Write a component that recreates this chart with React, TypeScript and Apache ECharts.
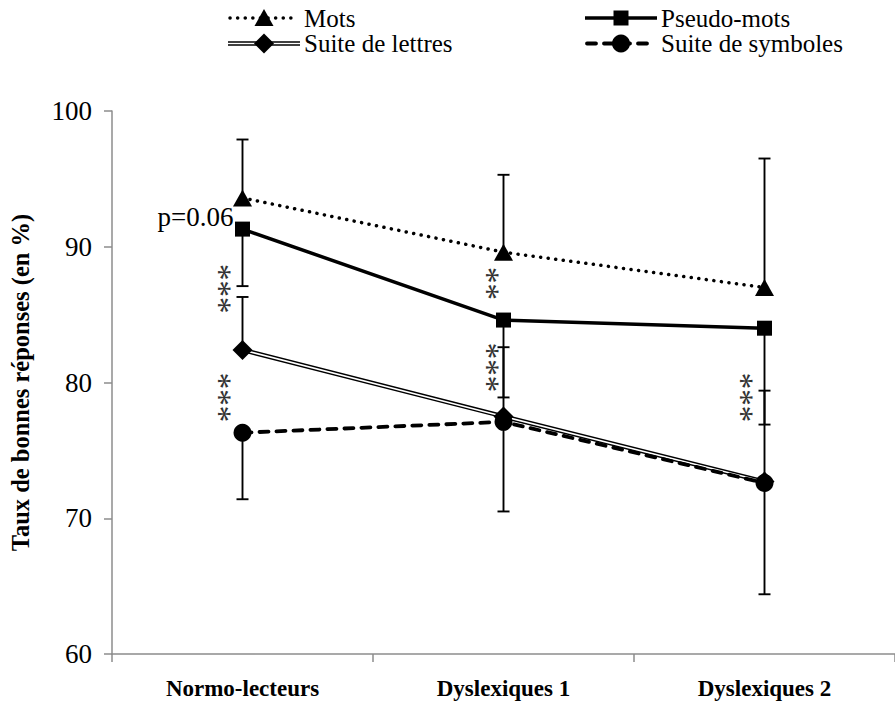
import React, { useEffect, useRef } from "react";
import * as echarts from "echarts";

const categories = ["Normo-lecteurs", "Dyslexiques 1", "Dyslexiques 2"];
const yMin = 60;
const yMax = 100;
const yStep = 10;

const seriesNames = ["Mots", "Pseudo-mots", "Suite de lettres", "Suite de symboles"];
const mots = [93.6, 89.6, 87.0];
const pseudoMots = [91.3, 84.6, 84.0];
const suiteLettres = [82.4, 77.5, 72.7];
const suiteSymboles = [76.3, 77.1, 72.6];

// error bar ends (Excel one-sided bars)
const motsPlus = [97.9, 95.3, 96.5];
const pseudoMotsMinus = [87.1, 78.9, 76.9];
const suiteLettresPlus = [86.3, 82.6, 79.4];
const suiteSymbolesMinus = [71.4, 70.5, 64.4];

// significance annotations: category index, centre value, number of stars
const starCats = [0, 0, 1, 1, 2];
const starValues = [86.9, 78.9, 87.3, 81.1, 78.9];
const starCounts = [3, 3, 2, 3, 3];
const pLabel = "p=0.06";
const pCat = 0;
const pValue = 92.2;

const FONT = "Liberation Serif";

export default function App() {
  const ref = useRef<HTMLDivElement>(null);

  useEffect(() => {
    if (!ref.current) return;
    const chart = echarts.init(ref.current, undefined, { renderer: "svg" });

    const errData = (from: number[], to: number[]) =>
      from.map((v, i) => [i, v, to[i]]);

    const errSeries = (name: string, from: number[], to: number[]) => ({
      type: "custom",
      name,
      z: 1,
      silent: true,
      data: errData(from, to),
      encode: { x: 0, y: [1, 2] },
      renderItem: (params: any, api: any) => {
        const c = api.value(0);
        const p0 = api.coord([c, api.value(1)]);
        const p1 = api.coord([c, api.value(2)]);
        return {
          type: "group",
          children: [
            {
              type: "line",
              shape: { x1: p0[0], y1: p0[1], x2: p1[0], y2: p1[1] },
              style: { stroke: "#000", lineWidth: 1.9 },
            },
            {
              type: "line",
              shape: { x1: p1[0] - 6, y1: p1[1], x2: p1[0] + 6, y2: p1[1] },
              style: { stroke: "#000", lineWidth: 1.9 },
            },
          ],
        };
      },
    });

    const option: any = {
      animation: false,
      textStyle: { fontFamily: FONT },
      grid: { left: 108, right: -11, top: 111, bottom: 50, containLabel: false },
      xAxis: {
        type: "category",
        data: categories,
        boundaryGap: true,
        axisLine: { lineStyle: { color: "#8c8c8c", width: 1.5 } },
        axisTick: { show: true, length: 8, lineStyle: { color: "#8c8c8c", width: 1.5 } },
        axisLabel: {
          color: "#000",
          fontFamily: FONT,
          fontWeight: "bold",
          fontSize: 23,
          margin: 23,
        },
        splitLine: { show: false },
      },
      yAxis: {
        type: "value",
        min: yMin,
        max: yMax,
        interval: yStep,
        name: "Taux de bonnes réponses (en %)",
        nameLocation: "middle",
        nameGap: 79,
        nameTextStyle: {
          color: "#000",
          fontFamily: FONT,
          fontWeight: "bold",
          fontSize: 24.5,
        },
        axisLine: { show: true, lineStyle: { color: "#8c8c8c", width: 1.5 } },
        axisTick: { show: true, length: 8, lineStyle: { color: "#8c8c8c", width: 1.5 } },
        axisLabel: { color: "#000", fontFamily: FONT, fontSize: 27, margin: 20 },
        splitLine: { show: false },
      },
      series: [
        errSeries("err-mots", mots, motsPlus),
        errSeries("err-pseudo", pseudoMots, pseudoMotsMinus),
        errSeries("err-lettres", suiteLettres, suiteLettresPlus),
        errSeries("err-symboles", suiteSymboles, suiteSymbolesMinus),
        {
          type: "line",
          name: seriesNames[0],
          data: mots,
          z: 3,
          symbol: "triangle",
          symbolSize: [19, 17],
          itemStyle: { color: "#000" },
          lineStyle: { color: "#000", width: 3.5, type: [0.1, 7.5], cap: "round" },
        },
        {
          type: "line",
          name: seriesNames[1],
          data: pseudoMots,
          z: 3,
          symbol: "rect",
          symbolSize: 15,
          itemStyle: { color: "#000" },
          lineStyle: { color: "#000", width: 3.5 },
        },
        {
          type: "line",
          name: seriesNames[2] + "-outer",
          data: suiteLettres,
          z: 2,
          symbol: "none",
          lineStyle: { color: "#000", width: 4.5 },
        },
        {
          type: "line",
          name: seriesNames[2] + "-inner",
          data: suiteLettres,
          z: 2,
          symbol: "none",
          silent: true,
          lineStyle: { color: "#fff", width: 1.6 },
        },
        {
          type: "line",
          name: seriesNames[3],
          data: suiteSymboles,
          z: 3,
          symbol: "circle",
          symbolSize: 18,
          itemStyle: { color: "#000" },
          lineStyle: { color: "#000", width: 3.8, type: [9, 8], cap: "round" },
        },
        {
          type: "line",
          name: seriesNames[2],
          data: suiteLettres,
          z: 4,
          symbol: "diamond",
          symbolSize: [20, 20],
          itemStyle: { color: "#000" },
          lineStyle: { opacity: 0 },
        },
      ],
    };

    chart.setOption(option);

    // annotations positioned through the axes
    const graphics: any[] = [];
    starCats.forEach((c, i) => {
      const p = chart.convertToPixel({ gridIndex: 0 }, [c, starValues[i]]) as number[];
      const n = starCounts[i];
      const dx = c === 1 ? -12 : -19;
      graphics.push({
        type: "text",
        x: p[0] + dx + 5,
        y: p[1],
        rotation: Math.PI / 2,
        style: {
          text: new Array(n).fill("*").join(""),
          fontFamily: FONT,
          fontSize: 33,
          fill: "#333",
          align: "center",
          verticalAlign: "middle",
        },
      });
    });
    const pp = chart.convertToPixel({ gridIndex: 0 }, [pCat, pValue]) as number[];
    graphics.push({
      type: "text",
      x: pp[0] - 9,
      y: pp[1],
      style: {
        text: pLabel,
        fontFamily: FONT,
        fontSize: 27,
        fill: "#000",
        align: "right",
        verticalAlign: "middle",
      },
    });

    // legend drawn as graphics (double line and dotted styles)
    const legendItems = [
      { name: seriesNames[0], x: 228, y: 18, kind: "mots" },
      { name: seriesNames[1], x: 585, y: 18, kind: "pseudo" },
      { name: seriesNames[2], x: 228, y: 43.5, kind: "lettres" },
      { name: seriesNames[3], x: 585, y: 43.5, kind: "symboles" },
    ];
    const W = 72;
    legendItems.forEach((it) => {
      const cx = it.x + W / 2;
      const y = it.y;
      if (it.kind === "mots") {
        graphics.push({
          type: "line",
          shape: { x1: it.x + 2, y1: y, x2: it.x + W - 2, y2: y },
          style: { stroke: "#000", lineWidth: 3.5, lineDash: [0.1, 7.5], lineCap: "round" },
        });
        graphics.push({
          type: "polygon",
          shape: { points: [[cx, y - 9], [cx + 9.5, y + 8], [cx - 9.5, y + 8]] },
          style: { fill: "#000" },
        });
      } else if (it.kind === "pseudo") {
        graphics.push({
          type: "line",
          shape: { x1: it.x, y1: y, x2: it.x + W, y2: y },
          style: { stroke: "#000", lineWidth: 3.5 },
        });
        graphics.push({
          type: "rect",
          shape: { x: cx - 7.5, y: y - 7.5, width: 15, height: 15 },
          style: { fill: "#000" },
        });
      } else if (it.kind === "lettres") {
        graphics.push({
          type: "line",
          shape: { x1: it.x, y1: y, x2: it.x + W, y2: y },
          style: { stroke: "#000", lineWidth: 4.5 },
        });
        graphics.push({
          type: "line",
          shape: { x1: it.x, y1: y, x2: it.x + W, y2: y },
          style: { stroke: "#fff", lineWidth: 1.6 },
        });
        graphics.push({
          type: "polygon",
          shape: { points: [[cx, y - 10], [cx + 10, y], [cx, y + 10], [cx - 10, y]] },
          style: { fill: "#000" },
        });
      } else {
        graphics.push({
          type: "line",
          shape: { x1: it.x + 2, y1: y, x2: it.x + W - 2, y2: y },
          style: { stroke: "#000", lineWidth: 3.8, lineDash: [9, 8], lineCap: "round" },
        });
        graphics.push({
          type: "circle",
          shape: { cx, cy: y, r: 9 },
          style: { fill: "#000" },
        });
      }
      graphics.push({
        type: "text",
        x: it.x + W + 4,
        y,
        style: {
          text: it.name,
          fontFamily: FONT,
          fontSize: 25,
          fill: "#000",
          align: "left",
          verticalAlign: "middle",
        },
      });
    });

    chart.setOption({ graphic: graphics });

    return () => chart.dispose();
  }, []);

  return (
    <div
      ref={ref}
      style={{ position: "absolute", left: 0, top: 0, width: 895, height: 704 }}
    />
  );
}
